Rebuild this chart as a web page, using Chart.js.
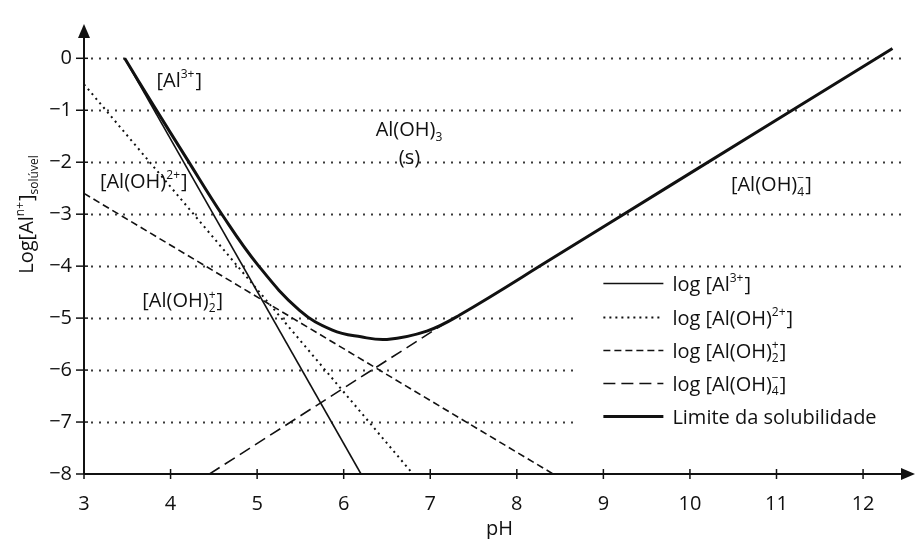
<!DOCTYPE html>
<html>
<head>
<meta charset="utf-8">
<script src="https://cdn.jsdelivr.net/npm/chart.js@4.4.0/dist/chart.umd.min.js"></script>
<style>
  body { margin: 0; background: #fff; }
  canvas { display: block; }
</style>
</head>
<body>
<canvas id="chart" width="919" height="539"></canvas>
<script>
// valores: pH (x) e log da concentração (y)
const pHAl3 = [3.47, 6.2];
const logAl3 = [0, -8];
const pHAlOH = [3, 6.8];
const logAlOH = [-0.5, -8];
const pHAlOH2 = [3, 8.42];
const logAlOH2 = [-2.6, -8];
const pHAlOH4 = [4.45, 7.15];
const logAlOH4 = [-8, -5.12];
const pHLimite = [3.47, 3.8, 4.19, 4.6, 5.01, 5.49, 5.87, 6.2, 6.5, 6.96, 7.34, 8.42, 9.77, 12.34];
const logLimite = [0, -0.9, -1.94, -3.02, -3.98, -4.85, -5.23, -5.36, -5.41, -5.25, -4.94, -3.84, -2.45, 0.19];

const seriesNames = ['log [Al³⁺]', 'log [Al(OH)²⁺]', 'log [Al(OH)₂⁺]', 'log [Al(OH)₄⁻]', 'Limite da solubilidade'];
const pHTicks = [3, 4, 5, 6, 7, 8, 9, 10, 11, 12];
const logTicks = [0, -1, -2, -3, -4, -5, -6, -7, -8];

const FONT = '"Open Sans", "DejaVu Sans", sans-serif';
const INK = '#111111';
const SIZE = 20;

// texto com sobrescrito / subscrito
const legendParts = [
    ['log [Al', {sup: '3+'}, ']'],
    ['log [Al(OH)', {sup: '2+'}, ']'],
    ['log [Al(OH)', {sub: '2', sup: '+'}, ']'],
    ['log [Al(OH)', {sub: '4', sup: '−'}, ']'],
    ['Limite da solubilidade']
];

function toPoints(xs, ys) {
    return xs.map((v, i) => ({x: v, y: ys[i]}));
}

function partWidth(ctx, p, size) {
    if (typeof p === 'string') {
        ctx.font = size + 'px ' + FONT;
        return ctx.measureText(p).width;
    }
    ctx.font = Math.round(size * 0.6) + 'px ' + FONT;
    let w1 = p.sup ? ctx.measureText(p.sup).width : 0;
    let w2 = p.sub ? ctx.measureText(p.sub).width : 0;
    return Math.max(w1, w2) + 1;
}

function drawRich(ctx, parts, x, y, size, align) {
    let w = 0;
    parts.forEach(p => w += partWidth(ctx, p, size));
    let cx = align === 'center' ? x - w / 2 : x;
    ctx.textAlign = 'left';
    ctx.textBaseline = 'alphabetic';
    ctx.fillStyle = INK;
    parts.forEach(p => {
        const pw = partWidth(ctx, p, size);
        if (typeof p === 'string') {
            ctx.fillText(p, cx, y);
        } else {
            if (p.sup) ctx.fillText(p.sup, cx, y - size * 0.44);
            if (p.sub) ctx.fillText(p.sub, cx, y + size * 0.24);
        }
        cx += pw;
    });
}

const desenho = {
    id: 'desenho',
    beforeDatasetsDraw(chart) {
        const ctx = chart.ctx, x = chart.scales.x, y = chart.scales.y, a = chart.chartArea;
        // linhas pontilhadas horizontais
        ctx.save();
        ctx.strokeStyle = '#3a3a3a';
        ctx.lineWidth = 1.8;
        ctx.setLineDash([2, 6]);
        logTicks.forEach(v => {
            if (v === -8) return;
            const py = Math.round(y.getPixelForValue(v)) + 0.5;
            const end = v <= -5 ? x.getPixelForValue(8.7) : a.right - 14;
            ctx.beginPath();
            ctx.moveTo(a.left + 7, py);
            ctx.lineTo(end, py);
            ctx.stroke();
        });
        ctx.restore();
    },
    afterDatasetsDraw(chart) {
        const ctx = chart.ctx, x = chart.scales.x, y = chart.scales.y, a = chart.chartArea;
        ctx.save();
        ctx.strokeStyle = INK;
        ctx.fillStyle = INK;
        ctx.lineWidth = 2;
        ctx.beginPath();
        ctx.moveTo(a.left, a.bottom);
        ctx.lineTo(a.right - 10, a.bottom);
        ctx.moveTo(a.left, a.bottom);
        ctx.lineTo(a.left, a.top + 10);
        ctx.stroke();
        // setas
        ctx.beginPath();
        ctx.moveTo(a.right, a.bottom);
        ctx.lineTo(a.right - 14, a.bottom - 6);
        ctx.lineTo(a.right - 14, a.bottom + 6);
        ctx.closePath();
        ctx.fill();
        ctx.beginPath();
        ctx.moveTo(a.left, a.top);
        ctx.lineTo(a.left - 6, a.top + 14);
        ctx.lineTo(a.left + 6, a.top + 14);
        ctx.closePath();
        ctx.fill();
        // marcas
        ctx.lineWidth = 1.5;
        pHTicks.forEach(v => {
            const px = x.getPixelForValue(v);
            ctx.beginPath();
            ctx.moveTo(px, a.bottom - 5);
            ctx.lineTo(px, a.bottom + 5);
            ctx.stroke();
        });
        logTicks.forEach(v => {
            const py = y.getPixelForValue(v);
            ctx.beginPath();
            ctx.moveTo(a.left - 8, py);
            ctx.lineTo(a.left + 4, py);
            ctx.stroke();
        });
        ctx.restore();
    },
    afterDraw(chart) {
        const ctx = chart.ctx, x = chart.scales.x, y = chart.scales.y;
        ctx.save();
        // rótulos das espécies
        const rotulos = [
            {parts: ['[Al', {sup: '3+'}, ']'], px: 4.10, py: -0.42},
            {parts: ['Al(OH)', {sub: '3'}], px: 6.76, py: -1.36},
            {parts: ['(s)'], px: 6.76, py: -1.89},
            {parts: ['[Al(OH)', {sup: '2+'}, ']'], px: 3.69, py: -2.36},
            {parts: ['[Al(OH)', {sub: '4', sup: '−'}, ']'], px: 10.94, py: -2.42},
            {parts: ['[Al(OH)', {sub: '2', sup: '+'}, ']'], px: 4.14, py: -4.66}
        ];
        rotulos.forEach(r => {
            drawRich(ctx, r.parts, x.getPixelForValue(r.px), y.getPixelForValue(r.py) + 7, SIZE, 'center');
        });

        // legenda
        const lx = x.getPixelForValue(9);
        const ly = y.getPixelForValue(-4.33);
        chart.data.datasets.forEach((ds, i) => {
            const yy = Math.round(ly + i * 33.3) + 0.5;
            ctx.save();
            ctx.strokeStyle = ds.borderColor;
            ctx.lineWidth = ds.borderWidth;
            ctx.setLineDash(ds.borderDash || []);
            ctx.beginPath();
            ctx.moveTo(lx, yy);
            ctx.lineTo(lx + 60, yy);
            ctx.stroke();
            ctx.restore();
            drawRich(ctx, legendParts[i], lx + 69, yy + 7, SIZE, 'left');
        });

        // título do eixo y
        ctx.translate(33, 214);
        ctx.rotate(-Math.PI / 2);
        drawRich(ctx, ['Log[Al', {sup: 'n+'}, ']', {sub: 'solúvel'}], 0, 0, SIZE, 'center');
        ctx.restore();
    }
};

const datasets = [
    {label: seriesNames[0], data: toPoints(pHAl3, logAl3), borderColor: INK, borderWidth: 1.6},
    {label: seriesNames[1], data: toPoints(pHAlOH, logAlOH), borderColor: INK, borderWidth: 2, borderDash: [2, 4]},
    {label: seriesNames[2], data: toPoints(pHAlOH2, logAlOH2), borderColor: INK, borderWidth: 1.6, borderDash: [7, 4]},
    {label: seriesNames[3], data: toPoints(pHAlOH4, logAlOH4), borderColor: INK, borderWidth: 1.6, borderDash: [12, 6]},
    {label: seriesNames[4], data: toPoints(pHLimite, logLimite), borderColor: INK, borderWidth: 3, tension: 0.4}
];

new Chart(document.getElementById('chart').getContext('2d'), {
    type: 'line',
    data: {datasets: datasets},
    options: {
        responsive: false,
        animation: false,
        devicePixelRatio: 1,
        elements: {point: {radius: 0}},
        layout: {padding: {left: 0, right: 4, top: 15, bottom: 0}},
        plugins: {
            legend: {display: false},
            tooltip: {enabled: false}
        },
        scales: {
            x: {
                type: 'linear',
                min: 3,
                max: 12.6,
                afterFit: s => { s.height = 65; },
                grid: {display: false, drawTicks: false},
                border: {display: false},
                ticks: {
                    stepSize: 1,
                    includeBounds: false,
                    padding: 18,
                    color: INK,
                    font: {family: FONT, size: SIZE}
                },
                title: {
                    display: true,
                    text: 'pH',
                    color: INK,
                    padding: {top: 0, bottom: -2},
                    font: {family: FONT, size: SIZE}
                }
            },
            y: {
                min: -8,
                max: 0.66,
                afterFit: s => { s.width = 84; },
                grid: {display: false, drawTicks: false},
                border: {display: false},
                ticks: {
                    stepSize: 1,
                    includeBounds: false,
                    padding: 12,
                    color: INK,
                    font: {family: FONT, size: SIZE},
                    callback: v => v < 0 ? '−' + Math.abs(v) : String(v)
                }
            }
        }
    },
    plugins: [desenho]
});
</script>
</body>
</html>
